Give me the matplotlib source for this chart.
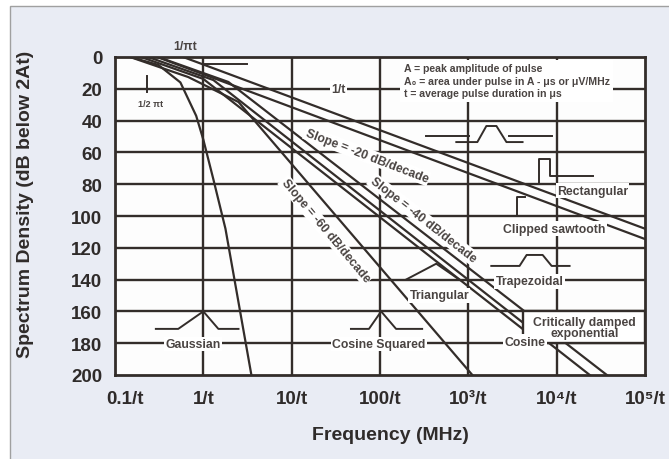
import matplotlib
matplotlib.use("Agg")
import matplotlib.pyplot as plt
from matplotlib.patches import Rectangle
from matplotlib.transforms import ScaledTranslation

plt.rcParams['font.family'] = ['Liberation Sans', 'DejaVu Sans']

# axis ticks
freq_ticks = [0.1, 1, 10, 100, 1e3, 1e4, 1e5]
freq_labels = ["0.1/t", "1/t", "10/t", "100/t", "10³/t", "10⁴/t", "10⁵/t"]
db_ticks = [0, 20, 40, 60, 80, 100, 120, 140, 160, 180, 200]

# spectrum envelopes (frequency in 1/t, dB below 2At)
rect_f = [0.59, 1e5]
rect_db = [0, 108]
saw_f = [0.3, 1e5]
saw_db = [0, 114.5]
trap_f = [0.308, 1.92, 37000]
trap_db = [0, 15.7, 200]
tri_f = [0.237, 1.30, 23700]
tri_db = [0, 14.5, 200]
cos_f = [0.197, 1.0, 4110]
cos_db = [0, 13.8, 171]
cos2_f = [0.148, 0.675, 2.5, 1110]
cos2_db = [0, 12.6, 28.3, 200]
gauss_f = [0.15, 0.31, 0.55, 0.83, 1.0, 1.3, 1.78, 3.5]
gauss_db = [0, 5, 16, 37, 52, 77, 108, 200]

# little pulse-shape sketches
top_icon_f = [731, 1265, 1600, 2080, 2700, 4110]
top_icon_db = [53.5, 53.5, 43.4, 43.4, 53.5, 53.5]
top_bar1_f = [333, 1026]
top_bar2_f = [2920, 8770]
top_bar_db = [49.7, 49.7]
rect_icon_f = [1026, 6240, 6240, 8330, 8330, 25600]
rect_icon_db = [80, 80, 64, 64, 75, 75]
saw_icon_f = [1875, 3600, 3600, 4330]
saw_icon_db = [100, 100, 88, 88]
trap_icon_f = [1820, 3800, 4570, 6940, 8770, 14000]
trap_icon_db = [131.4, 131.4, 124.5, 124.5, 131.4, 131.4]
tri_icon_f = [197, 433, 790]
tri_icon_db = [140, 130, 140]
gauss_icon_f = [0.29, 0.52, 1.0, 1.48, 2.5]
gauss_icon_db = [171, 171, 160, 171, 171]
cos2_icon_f = [46.9, 75, 103, 152, 300]
cos2_icon_db = [171, 171, 160, 171, 171]

ink = '#332d2a'
txt = '#2f2b2a'

fig = plt.figure(figsize=(6.69, 4.6), dpi=100)
fig.patch.set_facecolor('white')
fig.patches.append(Rectangle((10 / 669, -0.01), 1.0, 1 - 7 / 460 + 0.01,
                             transform=fig.transFigure, facecolor='#e9ecf4',
                             edgecolor='#a0a0a0', lw=1.0, zorder=-5))
ax = fig.add_axes([115 / 669, 1 - 376 / 460, 530 / 669, 318 / 460])
ax.set_zorder(2)
ax.set_facecolor('#fdfdfd')
ax.set_xscale('log')
ax.set_xlim(0.1, 1e5)
ax.set_ylim(200, 0)

# grid
for d in db_ticks[1:-1]:
    ax.axhline(d, color=ink, lw=1.7, zorder=1)
for f in freq_ticks[1:-1]:
    ax.axvline(f, color=ink, lw=1.7, zorder=1)

for fx, dy in [(rect_f, rect_db), (saw_f, saw_db), (trap_f, trap_db),
               (tri_f, tri_db), (cos_f, cos_db), (cos2_f, cos2_db),
               (gauss_f, gauss_db)]:
    ax.plot(fx, dy, color=ink, lw=1.6, zorder=2)

# icons
icon_kw = dict(color=ink, lw=1.4, zorder=6)
ax.plot(top_icon_f, top_icon_db, **icon_kw)
ax.plot(top_bar1_f, top_bar_db, **icon_kw)
ax.plot(top_bar2_f, top_bar_db, **icon_kw)
ax.plot(rect_icon_f, rect_icon_db, **icon_kw)
ax.plot(saw_icon_f, saw_icon_db, **icon_kw)
ax.plot(trap_icon_f, trap_icon_db, **icon_kw)
ax.plot(tri_icon_f, tri_icon_db, **icon_kw)
ax.plot(gauss_icon_f, gauss_icon_db, **icon_kw)
ax.plot(cos2_icon_f, cos2_icon_db, **icon_kw)

# break markers near the top left
ax.plot([1.05, 3.1], [4.4, 4.4], color=ink, lw=1.4, zorder=6)
ax.plot([0.23, 0.23], [12, 22], color=ink, lw=1.4, zorder=6)

# critically damped box
ax.add_patch(Rectangle((4110, 160), 1e5 - 4110, 20, facecolor='white',
                       edgecolor=ink, lw=1.7, zorder=4))

white = dict(facecolor='white', edgecolor='none', pad=1.0)
lab = dict(fontsize=8.8, fontweight='bold', color='#4a4442', zorder=7,
           ha='center', va='center')
ax.text(0.62, -7, "1/πt", clip_on=False, **lab)
ax.text(0.25, 29, "1/2 πt", fontsize=6.5, fontweight='bold', color='#4a4442',
        ha='center', va='center', zorder=7)
ax.text(34.2, 20, "1/t", bbox=white, **lab)
ax.text(185, 4, "A = peak amplitude of pulse\n"
        "A₀ = area under pulse in A - μs or μV/MHz\n"
        "t = average pulse duration in μs",
        fontsize=7.6, fontweight='bold', color='#4a4442', ha='left',
        va='top', linespacing=1.3, zorder=5,
        bbox=dict(facecolor='white', edgecolor='none', pad=2.5))
ax.text(71, 62, "Slope = -20 dB/decade", rotation=-21, bbox=white, **lab)
ax.text(308, 102, "Slope = -40 dB/decade", rotation=-38, bbox=white, **lab)
ax.text(24.3, 109, "Slope = -60 dB/decade", rotation=-50, bbox=white, **lab)
ax.text(25500, 84, "Rectangular", bbox=white, **lab)
ax.text(9490, 108, "Clipped sawtooth", bbox=white, **lab)
ax.text(4930, 141, "Trapezoidal", bbox=white, **lab)
ax.text(468, 150, "Triangular", bbox=white, **lab)
ax.text(0.77, 180.5, "Gaussian", bbox=white, **lab)
ax.text(97.5, 180.5, "Cosine Squared", bbox=white, **lab)
ax.text(4400, 179, "Cosine", bbox=white, **lab)
ax.text(20800, 170, "Critically damped\nexponential", linespacing=0.95, **lab)

ax.set_xticks(freq_ticks)
ax.set_xticklabels(freq_labels)
ax.set_yticks(db_ticks)
ax.minorticks_off()
ax.tick_params(length=0, labelsize=13.5, colors=txt)
ax.tick_params(axis='y', pad=9)
ax.tick_params(axis='x', pad=11)
for t in ax.get_xticklabels() + ax.get_yticklabels():
    t.set_fontweight('bold')
first = ax.get_xticklabels()[0]
first.set_transform(first.get_transform() + ScaledTranslation(0.1, 0, fig.dpi_scale_trans))
for s in ax.spines.values():
    s.set_color(ink)
    s.set_linewidth(2.0)

ax.set_xlabel("Frequency (MHz)", fontsize=14, fontweight='bold', color=txt)
ax.xaxis.set_label_coords(0.52, -0.16)
ax.set_ylabel("Spectrum Density (dB below 2At)", fontsize=14,
              fontweight='bold', color=txt)
ax.yaxis.set_label_coords(-0.153, 0.54)

fig.savefig("out.png", dpi=100, facecolor=fig.get_facecolor())
